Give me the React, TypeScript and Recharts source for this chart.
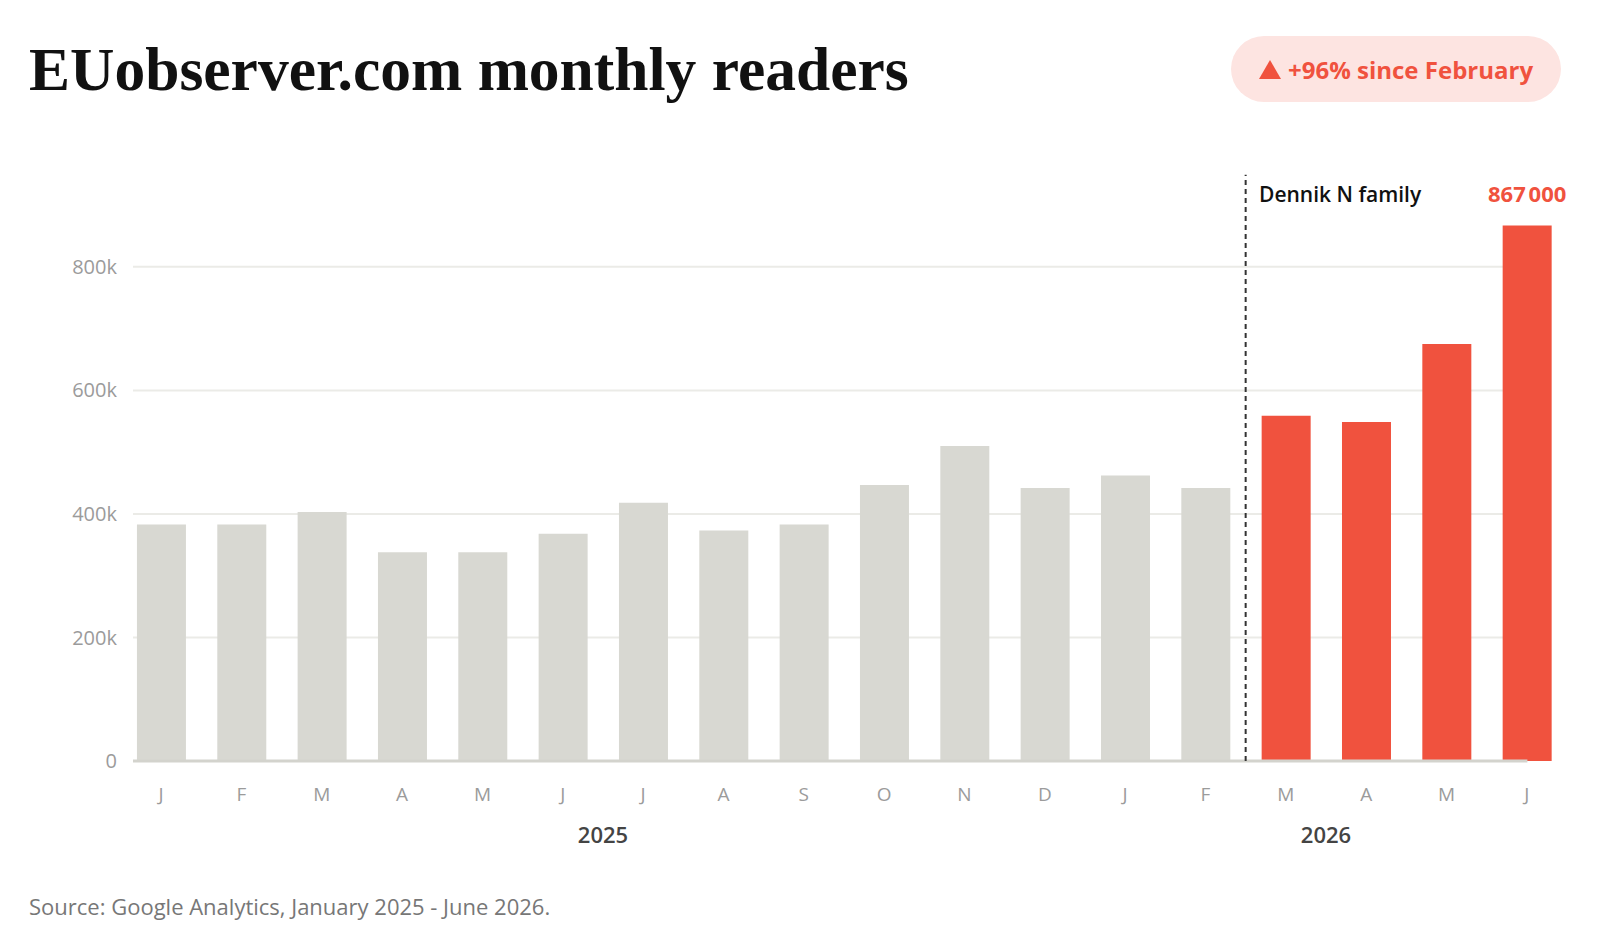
// EUobserver.com monthly readers, Jan 2025 - Jun 2026. Grey = before, red = Dennik N family.
import { BarChart, Bar, Cell, XAxis, YAxis, CartesianGrid, ReferenceLine, LabelList } from 'recharts';

const months = ['J', 'F', 'M', 'A', 'M', 'J', 'J', 'A', 'S', 'O', 'N', 'D', 'J', 'F', 'M', 'A', 'M', 'J'];
const readers = [
  383000, 383000, 403000, 338000, 338000, 368000, 418000, 373000, 383000,
  447000, 510000, 442000, 462000, 442000, 559000, 549000, 675000, 867000,
];
const years = [
  { label: '2025', from: 0, to: 11 },
  { label: '2026', from: 12, to: 17 },
];
const yTicks = [0, 200000, 400000, 600000, 800000];
const familyStart = 14; // first month under Dennik N family
const lastIdx = readers.length - 1;

const rows = readers.map((v, i) => ({ i, readers: v, peak: i === lastIdx ? v : undefined }));
const monthTicks = months.map((_, i) => i);
const yearTicks = years.map((y) => (y.from + y.to) / 2);

const GREY = '#d8d8d2';
const RED = '#f0523e';
const SANS = '"Open Sans", sans-serif';
const X_DOMAIN: [number, number] = [-0.35, 17.5];

const fmtK = (v: number) => (v === 0 ? '0' : `${v / 1000}k`);
const fmtFull = (v: any) => (v == null ? '' : String(v).replace(/\B(?=(\d{3})+(?!\d))/g, '\u202F'));

export default function App() {
  return (
    <div style={{ position: 'absolute', left: 0, top: 0, width: 1600, height: 939, background: '#fff', fontFamily: SANS }}>
      <div style={{ position: 'absolute', left: 29, top: 38, fontFamily: '"Liberation Serif", serif', fontWeight: 700, fontSize: 61.5, lineHeight: '62px', color: '#111', whiteSpace: 'nowrap' }}>
        EUobserver.com monthly readers
      </div>

      <div style={{ position: 'absolute', left: 1231, top: 36, width: 330, height: 66, borderRadius: 33, background: '#fde4e1', display: 'flex', alignItems: 'center', justifyContent: 'center', gap: 7 }}>
        <svg width={22} height={19} viewBox="0 0 22 19"><polygon points="11,0 22,19 0,19" fill={RED} /></svg>
        <span style={{ fontSize: 24, fontWeight: 700, color: RED, whiteSpace: 'nowrap' }}>+96% since February</span>
      </div>

      <div style={{ position: 'absolute', left: 1259, top: 184, fontSize: 21, lineHeight: '21px', fontWeight: 600, color: '#111', whiteSpace: 'nowrap' }}>
        Dennik N family
      </div>

      <BarChart width={1600} height={939} data={rows} margin={{ top: 168, right: 33, bottom: 98, left: 0 }}>
        <CartesianGrid
          vertical={false}
          horizontalValues={yTicks.filter((t) => t > 0)}
          stroke="#ebebe7"
          strokeWidth={2}
          x={133}
          width={1395}
        />
        <XAxis
          type="number"
          dataKey="i"
          domain={X_DOMAIN}
          ticks={monthTicks}
          interval={0}
          allowDataOverflow
          tickFormatter={(v) => months[v]}
          axisLine={false}
          tickLine={false}
          tickMargin={21}
          height={40}
          tick={{ fontSize: 19, fontFamily: SANS, fill: '#9b9b9b' }}
        />
        <XAxis
          xAxisId="year"
          type="number"
          dataKey="i"
          domain={X_DOMAIN}
          ticks={yearTicks}
          interval={0}
          allowDataOverflow
          tickFormatter={(v) => years.find((y) => (y.from + y.to) / 2 === v)?.label ?? ''}
          axisLine={false}
          tickLine={false}
          tickMargin={20}
          height={40}
          tick={{ fontSize: 22, fontWeight: 600, fontFamily: SANS, fill: '#444' }}
        />
        <YAxis
          domain={[0, 960000]}
          ticks={yTicks}
          tickFormatter={fmtK}
          axisLine={false}
          tickLine={false}
          tickMargin={10}
          width={133}
          tick={{ fontSize: 20, fontFamily: SANS, fill: '#9b9b9b' }}
        />
        <Bar dataKey="readers" barSize={49} isAnimationActive={false}>
          {rows.map((r) => (
            <Cell key={r.i} fill={r.i >= familyStart ? RED : GREY} />
          ))}
          <LabelList dataKey="peak" position="top" offset={23} formatter={fmtFull} style={{ fontSize: 22, fontWeight: 700, fontFamily: SANS, fill: RED }} />
        </Bar>
        <ReferenceLine segment={[{ x: -0.35, y: 0 }, { x: 17.007, y: 0 }]} stroke="#d3d3cd" strokeWidth={3} ifOverflow="visible" />
        <ReferenceLine
          segment={[{ x: familyStart - 0.5, y: 0 }, { x: familyStart - 0.5, y: 949000 }]}
          stroke="#333"
          strokeWidth={2}
          strokeDasharray="5 4"
          ifOverflow="visible"
        />
      </BarChart>

      <div style={{ position: 'absolute', left: 29, top: 895, fontSize: 22, lineHeight: '22px', color: '#777', whiteSpace: 'nowrap' }}>
        Source: Google Analytics, January 2025 - June 2026.
      </div>
    </div>
  );
}
